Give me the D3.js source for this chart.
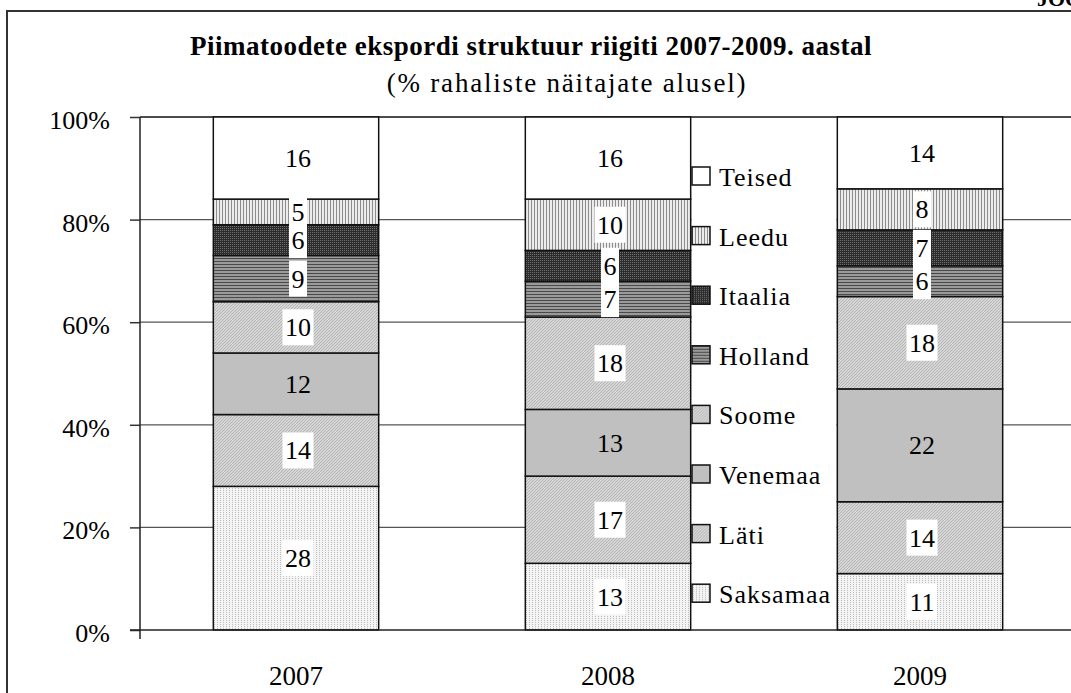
<!DOCTYPE html>
<html>
<head>
<meta charset="utf-8">
<script src="https://cdn.jsdelivr.net/npm/d3@7"></script>
<style>
  body { margin: 0; background: #fff; }
  svg { display: block; font-family: 'Liberation Serif', 'Times New Roman', serif; }
</style>
</head>
<body>
<svg id="chart" width="1071" height="693"></svg>
<script>
// values, bottom segment first
const years = ['2007', '2008', '2009'];
const countries = ['Saksamaa', 'Läti', 'Venemaa', 'Soome', 'Holland', 'Itaalia', 'Leedu', 'Teised'];
const values2007 = [28, 14, 12, 10, 9, 6, 5, 16];
const values2008 = [13, 17, 13, 18, 7, 6, 10, 16];
const values2009 = [11, 14, 22, 18, 6, 7, 8, 14];
const yTicks = [0, 20, 40, 60, 80, 100];

const title = 'Piimatoodete ekspordi struktuur riigiti 2007-2009. aastal';
const subtitle = '(% rahaliste näitajate alusel)';

const fills = {
  Saksamaa: 'url(#pSaks)',
  'Läti': 'url(#pHatch)',
  Venemaa: '#c0c0c0',
  Soome: 'url(#pHatch)',
  Holland: 'url(#pHoll)',
  Itaalia: 'url(#pItaa)',
  Leedu: 'url(#pLeedu)',
  Teised: '#ffffff'
};
const noBox = ['Venemaa', 'Teised'];

const table = years.map((year, i) => {
  const vals = [values2007, values2008, values2009][i];
  const row = { year };
  countries.forEach((c, j) => { row[c] = vals[j]; });
  return row;
});

const svg = d3.select('#chart');

// patterns
const defs = svg.append('defs');

const saks = defs.append('pattern').attr('id', 'pSaks').attr('patternUnits', 'userSpaceOnUse')
  .attr('width', 3).attr('height', 2);
saks.append('rect').attr('width', 3).attr('height', 2).attr('fill', '#f4f4f4');
saks.append('rect').attr('x', 1).attr('width', 1).attr('height', 1).attr('fill', '#bcbcbc');

const hatch = defs.append('pattern').attr('id', 'pHatch').attr('patternUnits', 'userSpaceOnUse')
  .attr('width', 3).attr('height', 3);
hatch.append('rect').attr('width', 3).attr('height', 3).attr('fill', '#d6d6d6');
hatch.append('path').attr('d', 'M-1,1 l2,-2 M0,3 l3,-3 M2,4 l2,-2')
  .attr('stroke', '#ababab').attr('stroke-width', 0.8);

const holl = defs.append('pattern').attr('id', 'pHoll').attr('patternUnits', 'userSpaceOnUse')
  .attr('width', 3).attr('height', 3);
holl.append('rect').attr('width', 3).attr('height', 3).attr('fill', '#9a9a9a');
holl.append('rect').attr('width', 3).attr('height', 1).attr('fill', '#4a4a4a');

const itaa = defs.append('pattern').attr('id', 'pItaa').attr('patternUnits', 'userSpaceOnUse')
  .attr('width', 2).attr('height', 2);
itaa.append('rect').attr('width', 2).attr('height', 2).attr('fill', '#2c2c2c');
itaa.append('rect').attr('width', 1).attr('height', 1).attr('fill', '#6e6e6e');

const leedu = defs.append('pattern').attr('id', 'pLeedu').attr('patternUnits', 'userSpaceOnUse')
  .attr('width', 3).attr('height', 2);
leedu.append('rect').attr('width', 3).attr('height', 2).attr('fill', '#ececec');
leedu.append('rect').attr('width', 1).attr('height', 2).attr('fill', '#8c8c8c');

// frame
svg.append('path').attr('d', 'M7,693 V11 H1071')
  .attr('fill', 'none').attr('stroke', '#333').attr('stroke-width', 2);
svg.append('text').attr('x', 1037).attr('y', 6)
  .attr('font-size', 22).attr('font-weight', 'bold').text('JOONIS');

// titles
svg.append('text').attr('x', 531).attr('y', 55).attr('text-anchor', 'middle')
  .attr('font-size', 27).attr('font-weight', 'bold').attr('letter-spacing', 0.5).text(title);
svg.append('text').attr('x', 567).attr('y', 92).attr('text-anchor', 'middle')
  .attr('font-size', 27).attr('letter-spacing', 1.8).text(subtitle);

// scales
const x = d3.scaleBand().domain(years).range([140, 1076])
  .paddingInner(0.47).paddingOuter(0.235);
const y = d3.scaleLinear().domain([0, 100]).range([630, 117]);

// gridlines
svg.append('g').selectAll('line').data(yTicks.filter(t => t > 0 && t < 100)).join('line')
  .attr('x1', 140).attr('x2', 1071)
  .attr('y1', d => y(d)).attr('y2', d => y(d))
  .attr('stroke', '#555').attr('stroke-width', 1.2);
svg.append('line').attr('x1', 140).attr('x2', 1071).attr('y1', y(100)).attr('y2', y(100))
  .attr('stroke', '#111').attr('stroke-width', 1.5);

// y axis
const yAxis = svg.append('g').attr('transform', 'translate(140,0)')
  .call(d3.axisLeft(y).tickValues(yTicks).tickSize(10).tickFormat(d => d + '%'))
  .attr('font-family', null).attr('font-size', null);
yAxis.select('.domain').remove();
yAxis.selectAll('.tick line').attr('stroke', '#333').attr('stroke-width', 1.5);
yAxis.selectAll('.tick text').attr('font-size', 26)
  .attr('fill', '#000').attr('x', -30).attr('dy', '0.44em');
svg.append('line').attr('x1', 140).attr('x2', 140).attr('y1', y(100)).attr('y2', 639)
  .attr('stroke', '#222').attr('stroke-width', 1.5);

// legend background
svg.append('rect').attr('x', 691.5).attr('y', 150).attr('width', 145).attr('height', 462)
  .attr('fill', '#fff');

// bars
const series = d3.stack().keys(countries)(table);
svg.append('g').selectAll('g').data(series).join('g')
  .selectAll('rect').data(s => s.map(d => ({ key: s.key, d }))).join('rect')
  .attr('x', p => x(p.d.data.year))
  .attr('width', x.bandwidth())
  .attr('y', p => y(p.d[1]))
  .attr('height', p => y(p.d[0]) - y(p.d[1]))
  .attr('fill', p => fills[p.key])
  .attr('stroke', '#111').attr('stroke-width', 1.5);

svg.append('line').attr('x1', 130).attr('x2', 1071).attr('y1', y(0)).attr('y2', y(0))
  .attr('stroke', '#222').attr('stroke-width', 1.5);

// segment labels
const labels = svg.append('g');
series.forEach(s => {
  s.forEach(d => {
    const cx = x(d.data.year) + x.bandwidth() / 2 + 2;
    const cy = (y(d[0]) + y(d[1])) / 2;
    const g = labels.append('g');
    const box = g.append('rect');
    const t = g.append('text').attr('x', cx).attr('y', cy + 9)
      .attr('text-anchor', 'middle').attr('font-size', 26).text(d.data[s.key]);
    if (!noBox.includes(s.key)) {
      const w = t.node().getComputedTextLength() + 5;
      box.attr('x', cx - w / 2).attr('y', cy - 18).attr('width', w).attr('height', 36)
        .attr('fill', '#fff');
    } else {
      box.remove();
    }
  });
});

// x labels
svg.append('g').selectAll('text').data(years).join('text')
  .attr('x', d => x(d) + x.bandwidth() / 2)
  .attr('y', 685)
  .attr('text-anchor', 'middle').attr('font-size', 27)
  .text(d => d);

// legend
const legend = svg.append('g').selectAll('g').data(countries.slice().reverse()).join('g')
  .attr('transform', (d, i) => `translate(692,${176 + i * 59.6})`);
legend.append('rect').attr('x', 0).attr('y', -9).attr('width', 18).attr('height', 18)
  .attr('fill', d => fills[d]).attr('stroke', '#111').attr('stroke-width', 1.5);
legend.append('text').attr('x', 27).attr('y', 10).attr('font-size', 26)
  .attr('letter-spacing', 1).text(d => d);
</script>
</body>
</html>
